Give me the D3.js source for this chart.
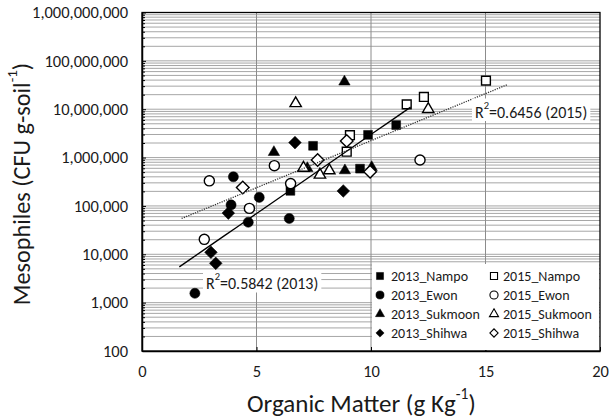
<!DOCTYPE html>
<html>
<head>
<meta charset="utf-8">
<script src="https://cdn.jsdelivr.net/npm/d3@7"></script>
<style>
  body { margin: 0; background: #fff; }
  svg { display: block; }
  text { font-family: Carlito, Lato, sans-serif; fill: #1a1a1a; }
</style>
</head>
<body>
<div id="chart"></div>
<script>
// values: [organic matter, CFU per g soil]
const nampo2013 = [[6.48, 205000], [7.47, 1750000], [9.52, 590000], [9.87, 2950000], [11.1, 4700000]];
const nampo2015 = [[15.02, 39000000], [11.56, 12600000], [12.31, 17900000], [9.08, 2900000], [8.94, 1320000]];
const ewon2013 = [[2.31, 1560], [3.99, 400000], [3.89, 105000], [5.12, 150000], [4.64, 46000], [6.43, 55000]];
const ewon2015 = [[2.94, 330000], [5.78, 680000], [4.69, 89000], [6.49, 290000], [2.72, 20400], [12.14, 890000]];
const sukmoon2013 = [[8.84, 37000000], [5.76, 1290000], [7.22, 600000], [8.86, 540000], [10.03, 630000]];
const sukmoon2015 = [[6.71, 13200000], [12.5, 10000000], [7.05, 610000], [7.77, 440000], [8.18, 540000]];
const shihwa2013 = [[6.68, 2040000], [8.79, 204000], [3.77, 71000], [3.01, 11000], [3.22, 6500]];
const shihwa2015 = [[4.40, 240000], [7.67, 890000], [8.94, 2200000], [9.96, 510000]];

const xTicks = [0, 5, 10, 15, 20];
const yDecades = [100, 1e3, 1e4, 1e5, 1e6, 1e7, 1e8, 1e9];

// exponential trendlines y = a * exp(b * x), drawn between x0 and x1
const trend2013 = { a: 1611, b: 0.753, x0: 1.63, x1: 11.73, label: "0.5842 (2013)" };
const trend2015 = { a: 25350, b: 0.448, x0: 1.73, x1: 15.93, label: "0.6456 (2015)" };

const series = [
  { name: "2013_Nampo", data: nampo2013, shape: "square", filled: true },
  { name: "2015_Nampo", data: nampo2015, shape: "square", filled: false },
  { name: "2013_Ewon", data: ewon2013, shape: "circle", filled: true },
  { name: "2015_Ewon", data: ewon2015, shape: "circle", filled: false },
  { name: "2013_Sukmoon", data: sukmoon2013, shape: "triangle", filled: true },
  { name: "2015_Sukmoon", data: sukmoon2015, shape: "triangle", filled: false },
  { name: "2013_Shihwa", data: shihwa2013, shape: "diamond", filled: true },
  { name: "2015_Shihwa", data: shihwa2015, shape: "diamond", filled: false }
];

const width = 609, height = 419;
const plot = { left: 142, right: 600, top: 12.5, bottom: 351 };

const svg = d3.select("#chart").append("svg")
  .attr("width", width)
  .attr("height", height);

const x = d3.scaleLinear().domain([0, 20]).range([plot.left, plot.right]);
const y = d3.scaleLog().domain([100, 1e9]).range([plot.bottom, plot.top]);

const minorVals = [];
yDecades.slice(0, -1).forEach(d => { for (let k = 2; k <= 9; k++) minorVals.push(k * d); });

// gridlines
const grid = svg.append("g");
grid.selectAll("line.hminor")
  .data(minorVals.concat(yDecades.slice(1, -1)))
  .enter().append("line")
  .attr("x1", plot.left).attr("x2", plot.right)
  .attr("y1", d => y(d)).attr("y2", d => y(d))
  .attr("stroke", "#a6a6a6").attr("stroke-width", 1);
grid.selectAll("line.v")
  .data(xTicks.slice(1, -1))
  .enter().append("line")
  .attr("x1", d => x(d)).attr("x2", d => x(d))
  .attr("y1", plot.top).attr("y2", plot.bottom)
  .attr("stroke", "#8c8c8c").attr("stroke-width", 1);

// axes
svg.append("g")
  .attr("transform", `translate(${plot.left},0)`)
  .call(d3.axisLeft(y).tickValues(yDecades).tickFormat(d3.format(","))
    .tickSizeInner(-4).tickSizeOuter(0).tickPadding(14));
svg.append("g")
  .attr("transform", `translate(${plot.left},0)`)
  .call(d3.axisLeft(y).tickValues(minorVals).tickFormat("")
    .tickSizeInner(-3).tickSizeOuter(0))
  .select(".domain").remove();
svg.append("g")
  .attr("transform", `translate(0,${plot.bottom})`)
  .call(d3.axisBottom(x).tickValues(xTicks)
    .tickSizeInner(-4).tickSizeOuter(0).tickPadding(14));

svg.selectAll(".tick text").style("font-size", "16.5px").attr("fill", "#1a1a1a");
svg.selectAll(".tick line").attr("stroke", "#000");
svg.selectAll(".domain").attr("stroke", "#000").attr("stroke-width", 1.5);

svg.append("rect")
  .attr("x", plot.left).attr("y", plot.top)
  .attr("width", plot.right - plot.left).attr("height", plot.bottom - plot.top)
  .attr("fill", "none").attr("stroke", "#000").attr("stroke-width", 1.3);

// markers
const symbolOf = {
  square: d3.symbol(d3.symbolSquare, 78),
  circle: d3.symbol(d3.symbolCircle, 80),
  triangle: d3.symbol(d3.symbolTriangle, 56),
  diamond: d3.symbol(d3.symbolSquare, 80)
};
const legendSymbolOf = {
  square: d3.symbol(d3.symbolSquare, 50),
  circle: d3.symbol(d3.symbolCircle, 52),
  triangle: d3.symbol(d3.symbolTriangle, 36),
  diamond: d3.symbol(d3.symbolSquare, 34)
};

series.forEach(s => {
  svg.append("g").selectAll("path")
    .data(s.data)
    .enter().append("path")
    .attr("d", symbolOf[s.shape])
    .attr("transform", d => `translate(${x(d[0])},${y(d[1])})` + (s.shape === "diamond" ? " rotate(45)" : ""))
    .attr("fill", s.filled ? "#000" : "#fff")
    .attr("stroke", "#000")
    .attr("stroke-width", s.filled ? 0.5 : 1.4);
});

// trendlines
function trendPoints(t) {
  return d3.range(0, 21).map(i => {
    const xv = t.x0 + (t.x1 - t.x0) * i / 20;
    return [xv, t.a * Math.exp(t.b * xv)];
  });
}
const line = d3.line().x(d => x(d[0])).y(d => y(d[1]));
svg.append("path").datum(trendPoints(trend2013))
  .attr("d", line).attr("fill", "none").attr("stroke", "#000").attr("stroke-width", 1.3);
svg.append("path").datum(trendPoints(trend2015))
  .attr("d", line).attr("fill", "none").attr("stroke", "#333")
  .attr("stroke-width", 1.3).attr("stroke-dasharray", "1.2,1.2");

// R² labels with white boxes
function r2Label(t, px, py) {
  const g = svg.append("g");
  const txt = g.append("text").attr("x", px).attr("y", py)
    .attr("dominant-baseline", "central").style("font-size", "16px");
  txt.append("tspan").text("R");
  txt.append("tspan").attr("baseline-shift", "super").style("font-size", "10.5px").text("2");
  txt.append("tspan").text("=" + t.label);
  const bb = txt.node().getBBox();
  g.insert("rect", "text")
    .attr("x", bb.x - 3).attr("y", bb.y)
    .attr("width", bb.width + 6).attr("height", bb.height)
    .attr("fill", "#fff");
}
r2Label(trend2013, 206, 283);
r2Label(trend2015, 475, 111.5);

// legend
const legend = svg.append("g");
legend.append("rect")
  .attr("x", 372).attr("y", 264)
  .attr("width", plot.right - 1 - 372).attr("height", plot.bottom - 1 - 264)
  .attr("fill", "#fff");
series.forEach((s, i) => {
  const col = i % 2, row = Math.floor(i / 2);
  const lx = col === 0 ? 380 : 494;
  const ly = 276 + row * 19;
  legend.append("path")
    .attr("d", legendSymbolOf[s.shape])
    .attr("transform", `translate(${lx},${ly})` + (s.shape === "diamond" ? " rotate(45)" : ""))
    .attr("fill", s.filled ? "#000" : "#fff")
    .attr("stroke", "#000")
    .attr("stroke-width", s.filled ? 0.5 : 1.1);
  legend.append("text")
    .attr("x", lx + (col === 0 ? 11 : 9)).attr("y", ly)
    .attr("dominant-baseline", "central")
    .style("font-size", "14px")
    .text(s.name);
});

// axis titles
const yTitle = svg.append("text")
  .attr("transform", "translate(21,184) rotate(-90)")
  .attr("text-anchor", "middle")
  .attr("dominant-baseline", "central")
  .style("font-size", "24.2px");
yTitle.append("tspan").text("Mesophiles (CFU g-soil");
yTitle.append("tspan").attr("baseline-shift", "super").style("font-size", "15px").text("-1");
yTitle.append("tspan").text(")");

const xTitle = svg.append("text")
  .attr("x", 361.5).attr("y", 403)
  .attr("text-anchor", "middle")
  .attr("dominant-baseline", "central")
  .style("font-size", "25px");
xTitle.append("tspan").text("Organic Matter (g Kg");
xTitle.append("tspan").attr("baseline-shift", "super").style("font-size", "15.5px").text("-1");
xTitle.append("tspan").text(")");
</script>
</body>
</html>
